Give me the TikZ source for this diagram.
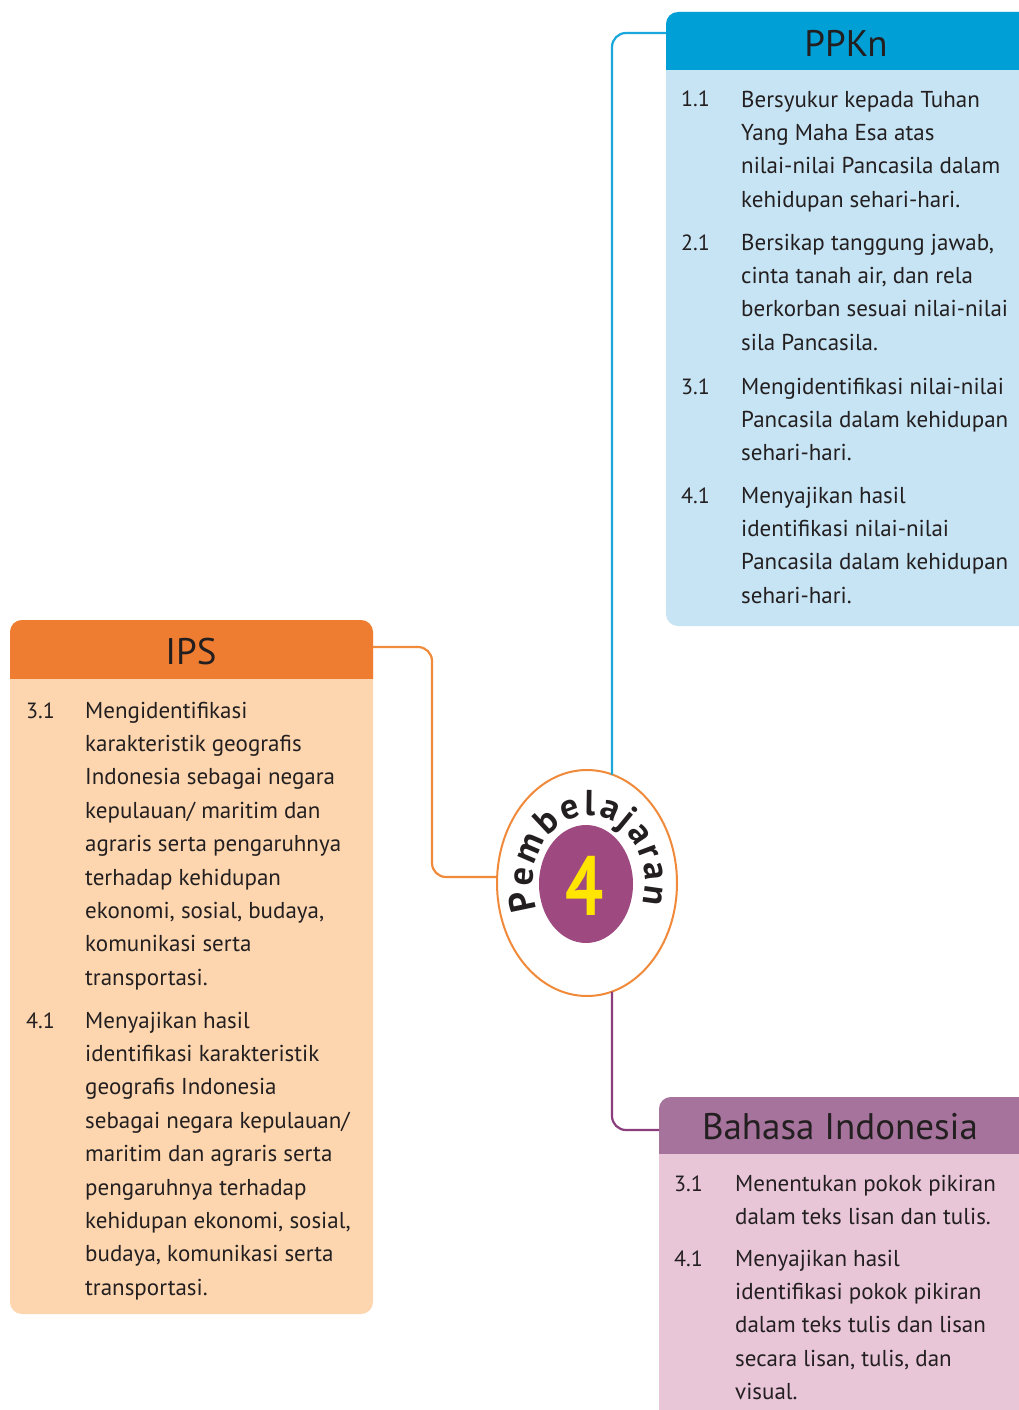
\documentclass[tikz,border=0pt]{standalone}
\usepackage{fontspec}
\setmainfont{PT Sans}
\usetikzlibrary{decorations.text,calc,shapes.geometric}
\definecolor{ppkH}{HTML}{00A0D7}
\definecolor{ppkB}{HTML}{C7E4F4}
\definecolor{ppkL}{HTML}{1AA7DB}
\definecolor{ipsH}{HTML}{EE7D31}
\definecolor{ipsB}{HTML}{FDD6AF}
\definecolor{ipsL}{HTML}{F08B3C}
\definecolor{bhsH}{HTML}{A6739C}
\definecolor{bhsB}{HTML}{E8C6D8}
\definecolor{bhsL}{HTML}{8B3D7E}
\definecolor{circO}{HTML}{F08A3A}
\definecolor{circP}{HTML}{9E4A80}
\definecolor{four}{HTML}{FFE500}
\definecolor{ink}{HTML}{231F20}
\begin{document}
\begin{tikzpicture}[x=1pt,y=1pt,
  hdr/.style={font=\fontsize{37}{40}\selectfont, text=ink, inner sep=0},
  num/.style={font=\fontsize{22}{33.4}\selectfont, text=ink, anchor=base west, inner sep=0},
  item/.style={font=\fontsize{23}{33.4}\selectfont, text=ink, anchor=north west, inner sep=0, align=left},
  conn/.style={line width=2.2pt, rounded corners=14pt}]
\useasboundingbox (0,0) rectangle (1019,-1410);
\clip (0,0) rectangle (1019,-1410);
\fill[white] (0,0) rectangle (1019,-1410);

% ---------- PPKn box ----------
\fill[ppkB, rounded corners=12] (666,-12) rectangle (1040,-626);
\begin{scope}
  \clip (666,-12) rectangle (1040,-70);
  \fill[ppkH, rounded corners=12] (666,-12) rectangle (1040,-626);
\end{scope}
\node[hdr] (ppkn) at (846,-43) {PPKn};
\coordinate (ppkW) at (666,-33);

\node[num] (p1n) at (681,-107) {1.1};
\node[item] (p1) at (741,-83.6) {\strut Bersyukur kepada Tuhan\\Yang Maha Esa atas\\nilai-nilai Pancasila dalam\\kehidupan sehari-hari.};
\node[num] (p2n) at (681,-250) {2.1};
\node[item] (p2) at (741,-226.6) {\strut Bersikap tanggung jawab,\\cinta tanah air, dan rela\\berkorban sesuai nilai-nilai\\sila Pancasila.};
\node[num] (p3n) at (681,-394) {3.1};
\node[item] (p3) at (741,-370.6) {\strut Mengidentifikasi nilai-nilai\\Pancasila dalam kehidupan\\sehari-hari.};
\node[num] (p4n) at (681,-503) {4.1};
\node[item] (p4) at (741,-479.6) {\strut Menyajikan hasil\\identifikasi nilai-nilai\\Pancasila dalam kehidupan\\sehari-hari.};

% ---------- IPS box ----------
\fill[ipsB, rounded corners=12] (10,-620) rectangle (373,-1314);
\begin{scope}
  \clip (10,-620) rectangle (373,-678);
  \fill[ipsH, rounded corners=12] (10,-620) rectangle (373,-1314);
\end{scope}
\node[hdr] (ips) at (191,-652) {IPS};
\coordinate (ipsE) at (373,-647);

\node[num] (i1n) at (26,-718) {3.1};
\node[item] (i1) at (85,-694.6) {\strut Mengidentifikasi\\karakteristik geografis\\Indonesia sebagai negara\\kepulauan/ maritim dan\\agraris serta pengaruhnya\\terhadap kehidupan\\ekonomi, sosial, budaya,\\komunikasi serta\\transportasi.};
\node[num] (i2n) at (26,-1028) {4.1};
\node[item] (i2) at (85,-1004.6) {\strut Menyajikan hasil\\identifikasi karakteristik\\geografis Indonesia\\sebagai negara kepulauan/\\maritim dan agraris serta\\pengaruhnya terhadap\\kehidupan ekonomi, sosial,\\budaya, komunikasi serta\\transportasi.};

% ---------- Bahasa Indonesia box ----------
\fill[bhsB, rounded corners=12] (659,-1097) rectangle (1040,-1430);
\begin{scope}
  \clip (659,-1097) rectangle (1040,-1153);
  \fill[bhsH, rounded corners=12] (659,-1097) rectangle (1040,-1430);
\end{scope}
\node[hdr] (bhs) at (840,-1127) {Bahasa Indonesia};
\coordinate (bhsW) at (659,-1130);

\node[num] (b1n) at (674,-1191) {3.1};
\node[item] (b1) at (735,-1167.6) {\strut Menentukan pokok pikiran\\dalam teks lisan dan tulis.};
\node[num] (b2n) at (674,-1266) {4.1};
\node[item] (b2) at (735,-1242.6) {\strut Menyajikan hasil\\identifikasi pokok pikiran\\dalam teks tulis dan lisan\\secara lisan, tulis, dan\\visual.};

% ---------- centre ----------
\node[ellipse, draw=circO, line width=2pt, fill=white, minimum width=180, minimum height=226, inner sep=0] (circ) at (587,-883) {};
\node[ellipse, fill=circP, minimum width=94, minimum height=118, inner sep=0] (inner) at (586,-884) {};
\node[text=four, font=\fontsize{84}{84}\selectfont\bfseries, inner sep=0] (four) at (585,-886) {\scalebox{0.8}[1]{4}};
\begin{scope}[shift={(589,-883)}, yscale=1.25]
\path[decorate, decoration={text along path, text align={fit to path},
   text={|\fontsize{36}{36}\selectfont\bfseries\color{ink}|Pembelajaran}}]
   (203:56 and 54) arc[start angle=203, end angle=-18, x radius=56, y radius=54];
\end{scope}

% ---------- connectors ----------
\draw[conn, ppkL] (ppkW) -| ($(circ.center)+(25,108.5)$);
\draw[conn, ipsL] (ipsE) -- ++(59,0) |- ($(circ.west)+(0,6)$);
\draw[conn, bhsL] ($(circ.center)+(25,-108.5)$) |- (bhsW);
\end{tikzpicture}
\end{document}
